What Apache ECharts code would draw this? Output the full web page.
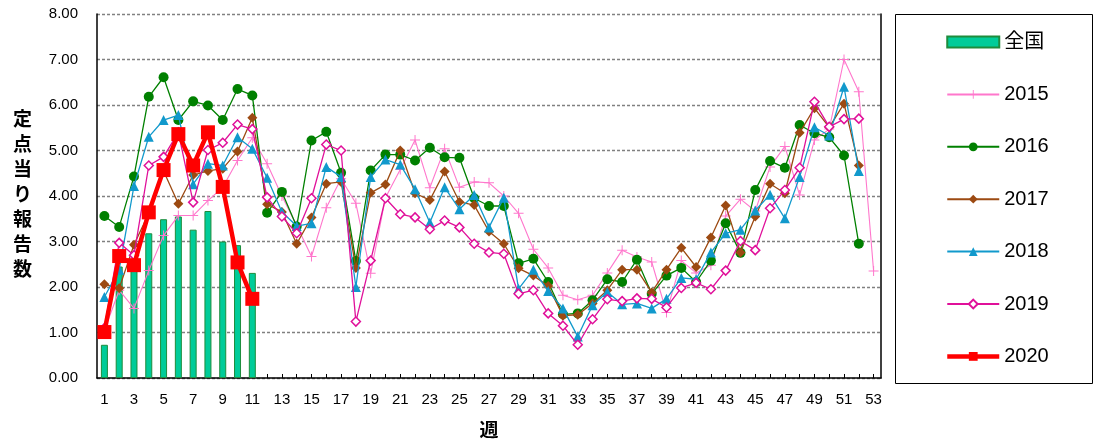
<!DOCTYPE html>
<html>
<head>
<meta charset="utf-8">
<script src="https://cdn.jsdelivr.net/npm/echarts@6/dist/echarts.min.js"></script>
<style>
html,body{margin:0;padding:0;background:#fff;}
#main{width:1094px;height:446px;}
</style>
</head>
<body>
<div id="main"></div>
<script>
// ---- data ----
var weeks = [];
for (var i = 1; i <= 53; i++) weeks.push(String(i));

var national = [0.73, 2.45, 2.55, 3.18, 3.49, 3.55, 3.26, 3.67, 3.00, 2.92, 2.31];

var y2015 = [1.05, 1.93, 1.53, 2.36, 3.13, 3.57, 3.57, 3.90, 4.19, 4.78,
             5.28, 4.71, 4.00, 3.35, 2.67, 3.74, 4.38, 3.84, 2.30, 3.96,
             4.58, 5.23, 4.18, 5.04, 4.19, 4.31, 4.29, 4.00, 3.62, 2.83,
             2.42, 1.82, 1.72, 1.82, 2.31, 2.81, 2.66, 2.55, 1.44, 2.58,
             2.31, 2.48, 3.56, 3.93, 3.67, 4.64, 5.09, 4.02, 5.23, 5.47,
             7.00, 6.29, 2.35];

var y2016 = [3.56, 3.32, 4.43, 6.18, 6.61, 5.67, 6.08, 5.99, 5.67, 6.35,
             6.21, 3.63, 4.09, 3.33, 5.22, 5.41, 4.51, 2.57, 4.56, 4.91,
             4.91, 4.78, 5.06, 4.85, 4.84, 3.95, 3.78, 3.78, 2.52, 2.62,
             2.11, 1.40, 1.42, 1.71, 2.17, 2.11, 2.60, 1.85, 2.25, 2.42,
             2.11, 2.58, 3.40, 2.75, 4.13, 4.77, 4.62, 5.56, 5.38, 5.29,
             4.89, 2.95, null];

var y2017 = [2.06, 1.97, 2.93, 3.62, 4.55, 3.83, 4.46, 4.55, 4.60, 4.98,
             5.72, 3.82, 3.65, 2.95, 3.53, 4.27, 4.31, 2.42, 4.07, 4.25,
             5.00, 4.06, 3.91, 4.54, 3.87, 3.80, 3.22, 2.95, 2.41, 2.25,
             2.02, 1.37, 1.39, 1.64, 1.93, 2.38, 2.38, 1.88, 2.38, 2.86,
             2.44, 3.09, 3.79, 2.76, 3.55, 4.27, 4.06, 5.39, 5.93, 5.51,
             6.03, 4.67, null];

var y2018 = [1.78, 2.38, 4.22, 5.30, 5.67, 5.78, 4.26, 4.71, 4.67, 5.29,
             5.04, 4.40, 3.65, 3.34, 3.40, 4.64, 4.42, 2.00, 4.42, 4.80,
             4.69, 4.15, 3.42, 4.19, 3.71, 4.02, 3.31, 3.96, 1.96, 2.38,
             1.91, 1.53, 0.91, 1.60, 1.89, 1.62, 1.64, 1.53, 1.74, 2.20,
             2.17, 2.76, 3.18, 3.26, 3.68, 4.03, 3.51, 4.42, 5.51, 5.33,
             6.40, 4.55, null];

var y2019 = [1.10, 2.97, 2.70, 4.67, 4.86, 5.40, 3.86, 5.01, 5.17, 5.57,
             5.47, 3.97, 3.55, 3.18, 3.95, 5.13, 5.00, 1.24, 2.58, 3.95,
             3.60, 3.53, 3.27, 3.46, 3.31, 2.95, 2.76, 2.73, 1.85, 1.93,
             1.42, 1.15, 0.73, 1.29, 1.73, 1.69, 1.75, 1.74, 1.55, 1.98,
             2.09, 1.95, 2.36, 3.01, 2.81, 3.73, 4.13, 4.62, 6.07, 5.52,
             5.69, 5.70, null];

var y2020 = [1.01, 2.68, 2.48, 3.64, 4.57, 5.36, 4.67, 5.40, 4.20, 2.54, 1.74];

var yTicks = [0, 1, 2, 3, 4, 5, 6, 7, 8];
// ---- chart ----
var FONT = "'Liberation Sans', Arial, 'Noto Sans CJK JP', sans-serif";
var plusPath = 'path://M4.5,0h1v4.5h4.5v1h-4.5v4.5h-1v-4.5h-4.5v-1h4.5z';

function lineSeries(name, data, color, symbol, size, extra) {
  var s = {
    name: name, type: 'line', data: data,
    symbol: symbol, symbolSize: size, showAllSymbol: true,
    connectNulls: false,
    lineStyle: { color: color, width: 1.3 },
    itemStyle: { color: color },
    emphasis: { disabled: true }
  };
  if (extra) for (var k in extra) s[k] = extra[k];
  return s;
}

var chart = echarts.init(document.getElementById('main'), null, { renderer: 'canvas' });
chart.setOption({
  animation: false,
  backgroundColor: '#fff',
  textStyle: { fontFamily: FONT },
  grid: { left: 97, right: 213, top: 14, bottom: 65, containLabel: false },
  graphic: [{
    type: 'rect', left: 893, top: 12,
    shape: { width: 197, height: 369 },
    style: { fill: 'none', stroke: '#000', lineWidth: 1 }, z: 10
  }],
  legend: {
    orient: 'vertical', left: 940, top: 26,
    itemWidth: 52, itemHeight: 11, itemGap: 30.4,
    textStyle: { fontSize: 20, lineHeight: 22, color: '#000', fontFamily: FONT },
    data: [
      { name: '全国', icon: 'rect' },
      '2015', '2016', '2017', '2018', '2019',
      { name: '2020', lineStyle: { width: 4.5 } }
    ]
  },
  xAxis: {
    type: 'category', data: weeks, boundaryGap: true,
    name: '週', nameLocation: 'middle', nameGap: 44,
    nameTextStyle: { fontSize: 19, fontWeight: 'bold', color: '#000', fontFamily: FONT },
    axisLine: { lineStyle: { color: '#000', width: 1.5 } },
    axisTick: { show: true, inside: true, length: 4, alignWithLabel: true, interval: 0,
                lineStyle: { color: '#000' } },
    axisLabel: { interval: 1, fontSize: 15, color: '#000', margin: 14 },
    splitLine: { show: false }
  },
  yAxis: [{
    type: 'value', min: yTicks[0], max: yTicks[yTicks.length - 1], interval: 1,
    name: '定\n点\n当\nり\n報\n告\n数', nameLocation: 'middle', nameGap: 65, nameRotate: 0,
    nameTextStyle: { fontSize: 19, fontWeight: 'bold', lineHeight: 25, color: '#000',
                     fontFamily: FONT },
    axisLine: { show: true, lineStyle: { color: '#000', width: 1.5 } },
    axisTick: { show: false },
    axisLabel: { fontSize: 15, color: '#000', margin: 19,
                 formatter: function (v) { return v.toFixed(2); } },
    splitLine: { show: true, lineStyle: { color: '#808080', width: 1.3, type: [3, 2] } }
  }, {
    type: 'value', min: 0, max: 8, interval: 1, position: 'right',
    axisLine: { show: true, lineStyle: { color: '#000', width: 1.5 } },
    axisTick: { show: false }, axisLabel: { show: false }, splitLine: { show: false }
  }],
  series: [
    {
      name: '全国', type: 'bar', data: national, barWidth: 7,
      itemStyle: { color: '#00CC99', borderColor: '#1E8C3C', borderWidth: 1 },
      emphasis: { disabled: true }, z: 1
    },
    lineSeries('2015', y2015, '#FF77CC', plusPath, 10, { lineStyle: { color: '#FF77CC', width: 1.1 }, z: 2 }),
    lineSeries('2016', y2016, '#008000', 'circle', 10, { z: 3 }),
    lineSeries('2017', y2017, '#9C4A12', 'diamond', 10, { z: 4 }),
    lineSeries('2018', y2018, '#1199CC', 'triangle', 10, { z: 5 }),
    lineSeries('2019', y2019, '#E0109A', 'diamond', 9, {
      itemStyle: { color: '#fff', borderColor: '#E0109A', borderWidth: 1.5 }, z: 6 }),
    lineSeries('2020', y2020, '#FF0000', 'rect', 14, {
      lineStyle: { color: '#FF0000', width: 4.5 }, z: 7 })
  ]
});
</script>
</body>
</html>
